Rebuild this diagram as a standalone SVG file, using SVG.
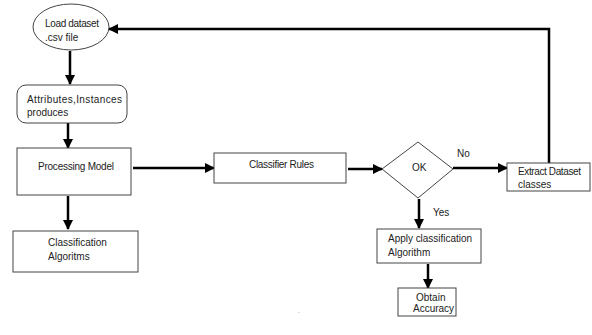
<svg xmlns="http://www.w3.org/2000/svg" width="592" height="335" viewBox="0 0 592 335">
<defs>
<style>
.box{fill:#fff;stroke:#444;stroke-width:1}
.t{font-family:"Liberation Sans",Arial,sans-serif;font-size:10px;fill:#222}
.c{fill:none;stroke:#000;stroke-width:2.5}
</style>
<marker id="ah" markerWidth="4" markerHeight="4" refX="3.6" refY="2" orient="auto" markerUnits="strokeWidth">
<path d="M0,0 L4,2 L0,4 Z" fill="#000"/>
</marker>
</defs>
<rect width="592" height="335" fill="#fff"/>
<g id="connectors">
<path class="c" d="M70,51 V84" marker-end="url(#ah)"/>
<path class="c" d="M68,123 V148" marker-end="url(#ah)"/>
<path class="c" d="M68,196 V229" marker-end="url(#ah)"/>
<path class="c" d="M133,168 H214" marker-end="url(#ah)"/>
<path class="c" d="M348,169 H382" marker-end="url(#ah)"/>
<path class="c" d="M453,168 H507" marker-end="url(#ah)"/>
<path class="c" d="M419,199 V228" marker-end="url(#ah)"/>
<path class="c" d="M428,264 V288" marker-end="url(#ah)"/>
<path class="c" d="M549,163 V29 H109" marker-end="url(#ah)"/>
</g>
<g id="load"><ellipse class="box" cx="71" cy="27" rx="38" ry="23"/><text class="t" x="45" y="27" textLength="54">Load dataset</text><text class="t" x="45" y="41">.csv file</text></g>
<g id="attributes"><rect class="box" x="17" y="85" width="110" height="38" rx="9"/><text class="t" x="27" y="103" textLength="95">Attributes,Instances</text><text class="t" x="27" y="116">produces</text></g>
<g id="processing"><rect class="box" x="17" y="148" width="114" height="47"/><text class="t" x="38" y="170" textLength="76">Processing Model</text></g>
<g id="classification"><rect class="box" x="13" y="231" width="125" height="41"/><text class="t" x="48" y="246">Classification</text><text class="t" x="48" y="260">Algoritms</text></g>
<g id="rules"><rect class="box" x="214" y="153" width="132" height="30"/><text class="t" x="249" y="168" textLength="65">Classifier Rules</text></g>
<g id="ok"><polygon class="box" points="382,169 418,142 453,169 418,198"/><text class="t" x="412" y="171">OK</text></g>
<g id="extract"><rect class="box" x="507" y="163" width="83" height="28"/><text class="t" x="518" y="175" textLength="63">Extract Dataset</text><text class="t" x="518" y="188">classes</text></g>
<g id="apply"><rect class="box" x="377" y="229" width="104" height="34"/><text class="t" x="388" y="242" textLength="84">Apply classification</text><text class="t" x="388" y="256">Algorithm</text></g>
<g id="obtain"><rect class="box" x="398" y="288" width="58" height="28"/><text class="t" x="416" y="301">Obtain</text><text class="t" x="413" y="312">Accuracy</text></g>
<text class="t" x="457" y="157">No</text>
<text class="t" x="433" y="216">Yes</text>
<text class="t" x="298" y="313" style="font-size:6px">.</text>
</svg>
